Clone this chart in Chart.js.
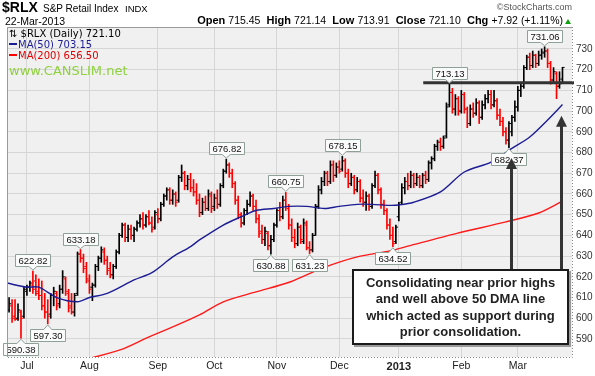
<!DOCTYPE html>
<html><head><meta charset="utf-8">
<script src="https://cdn.jsdelivr.net/npm/chart.js@4"></script>
<style>
body{margin:0;background:#fff;}
#wrap{position:relative;width:595px;height:376px;overflow:hidden;font-family:Arial,"Liberation Sans",sans-serif;color:#000;}
canvas{position:absolute;left:0;top:0;}
.t{position:absolute;white-space:nowrap;line-height:1;}
.lg{font-family:"DejaVu Sans",Verdana,sans-serif;font-size:10px;}
.dash{display:inline-block;width:8px;height:2px;vertical-align:3px;margin-right:1px;}
#note{position:absolute;left:352px;top:269px;width:217px;height:76px;box-sizing:border-box;border:2px solid #1a1a1a;background:#fff;box-shadow:2px 2px 0 #9a9a9a;font:bold 13px Arial,"Liberation Sans",sans-serif;color:#222;text-align:center;line-height:16.3px;padding-top:4px;white-space:nowrap;}
</style></head><body>
<div id="wrap">
<canvas id="c" width="595" height="376"></canvas>
<div class="t" style="left:2px;top:0px;font-size:14px;font-weight:bold;">$RLX</div>
<div class="t" style="left:43px;top:3.5px;font-size:10px;">S&amp;P Retail Index</div>
<div class="t" style="left:125px;top:4px;font-size:9.5px;">INDX</div>
<div class="t" style="right:23px;top:3.4px;font-size:9px;color:#555;">&copy;StockCharts.com</div>
<div class="t" style="left:5px;top:15.6px;font-size:10.5px;">22-Mar-2013</div>
<div class="t" style="right:32px;top:15.2px;font-size:11px;"><b>Open</b> <span style="font-size:10.5px">715.45</span>&nbsp; <b>High</b> <span style="font-size:10.5px">721.14</span>&nbsp; <b>Low</b> <span style="font-size:10.5px">713.91</span>&nbsp; <b>Close</b> <span style="font-size:10.5px">721.10</span>&nbsp; <b>Chg</b> <span style="font-size:10.5px">+7.92 (+1.11%)</span></div>
<div style="position:absolute;left:565px;top:19px;width:0;height:0;border-left:3.5px solid transparent;border-right:3.5px solid transparent;border-bottom:5px solid #10a010;"></div>
<div class="t lg" style="left:9px;top:28.5px;">&#8645; $RLX (Daily) 721.10</div>
<div class="t lg" style="left:9px;top:39.5px;color:#1c1c94;"><span class="dash" style="background:#1c1c94"></span>MA(50) 703.15</div>
<div class="t lg" style="left:9px;top:50.5px;color:#e00000;"><span class="dash" style="background:#ff0000"></span>MA(200) 656.50</div>
<div class="t" style="left:9px;top:64px;font-family:'DejaVu Sans',Verdana,sans-serif;font-size:13px;color:#8fd13f;">www.CANSLIM.net</div>
<div id="note">Consolidating near prior highs<br>and well above 50 DMA line<br>which acted as support during<br>prior consolidation.</div>
</div>
<script>
// Daily OHLC, 22-Jun-2012 .. 22-Mar-2013 (index 0 = 22-Jun-2012)
const opens = [604,606,601,600,603,601,613,615,616,618,613,611,606,603,602,611,612,607,614,619,612,606,603,612,631,629,625,618,615,616,625,629,632,628,624,621,625,632,640,645,639,643,640,643,646,648,645,649,646,644,650,648,655,659,662,657,660,657,668,670,664,667,663,661,657,651,656,653,659,654,658,655,664,671,674,670,665,657,650,646,652,655,659,654,648,642,638,641,635,638,645,652,649,657,653,645,639,636,644,637,645,634,633,640,654,662,666,670,666,674,669,673,672,676,670,665,668,662,666,658,656,659,654,664,669,662,655,652,645,640,637,649,656,663,666,664,669,665,668,664,669,667,675,677,683,685,683,688,703,709,701,706,700,708,701,694,701,699,704,697,703,706,708,703,705,698,695,690,686,690,697,702,710,712,721,726,722,727,723,727,728,729,723,715,718,712,715.45];
const highs = [610,609,609,607,604,615,616,618,622.82,621,619,618,612,609,612,615,613,616,623,620,614,612,612,632,633.18,631,627,621,617,626,630,634.5,634,630,627,626,633,641,646,646,645,645,644,647,650,651,650,652,649,652,653,656,660,663,663,662,661,669,674,671,669,670,667,665,660,658,659,662,661,660,662,665,672,676.82,675,672,666,659,651,653,657,661,660,657,650,645,644,642,640,646,653,656,659,660.75,655,648,643,646,645,648,647,637,641,655,664,668,671,671,676,676,675,676,678.15,677,672,670,669,668,667,662,661,660,665,671,670,663,657,653,648,644,645,656,665,668,670,671,670,670,669,670,671,676,678,684,686,687,688,704,713.13,711,708,707,710,709,702,703,704,706,705,705,708,710,710,710,706,701,697,692,695,698,705,712,713,722,727,728,729,727.5,729,730,731.06,730,724,721,719,719,721.14];
const lows = [603,598,599,599,590.38,600,611,613,612,611,609,604,600,597.30,600,606,604,605,612,611,603,602,601,611,627,622,617,612,608.5,615,623,627,626,621,619.5,619,624,631,639,637,637,638,637,642,644,643,644,645,641.5,643,646,647,654,657,655,655,654,656,666,662,662,661,659,655,649,650,652,652,651,652,653,654,663,670,668,663,655,648,644,645,650,654,652,646,639,636,635,633,630.88,637,644,647,648,652,643,637,634,635,636,636,633,631.23,632,640,653,660,664,664,665,666,668,670,671,668,663,664,660,661,656,654,652,652,653,663,660,653,650,643,638,634.52,636,647,655,660,662,663,663,664,663,663,665,666,672,676,681,681,682,687,702,699,698,698,699,699,692,693,697,698,694,696,701,704,701,702,696,693,688,684,682.37,688,695,700,707,711,720,720,721,721,722,725,726,721,713,714,706,711,713.91];
const closes = [607,600,599.5,604,600,614,615,617,614,612,611,606,603,601,611,613,606,614,620,613,605,603,611,631,629,624,619,614,616,625,629,633,628,623,621,625,632,640,645,639,643,640,643,646,648,645,649,646,643,651,648,655,659,662,657,660,656,668,670,664,667,663,661,657,651,656,653,660,653,658,655,664,671,674,670,665,657,650,646,652,655,659,654,648,641,638,642,635,638,645,652,649,657,654,645,639,636,644,638,646,634,633,640,654,662,666,670,666,674,669,673,671,676,670,665,668,662,666,658,656,659,654,664,669,662,655,652,645,640,636,644,655,663,666,664,669,665,668,664,669,667,675,677,683,685,683,687,702,709,701,706,700,708,701,694,701,699,704,697,703,706,708,703,705,698,695,690,686,694,697,702,710,712,721,726,722,727,723,727,728.5,729,723,715,719,712,713.18,721.10];

// Moving averages (index, value)
const ma50Idx = [-0.7,6,10,16,23,27,33,42,48,55,61,64,72,78,83,89,94,100,106,111,117,122,128,131,136,145,153,162,169,175,181,186];
const ma50Val = [617,615,615,610,608,610,612,618.5,622,629.6,634.6,637.8,645,649,652,653,654,654,653,654,655,655,654.5,654.7,656,661,670.6,675.4,682,687.5,695.7,703.15];
const ma200Idx = [24,37.3,46.3,55,64,72,83,94.4,105.5,117,128,134,150.5,167,178,186];
const ma200Val = [579.5,584.7,590.5,595.8,601.6,607.9,612.7,617.5,624.3,629.6,632.5,634.8,641,646.5,650.8,656.5];

// Axis ticks
const monthIdx = [6,27,50,69,90,111,131,152,171];
const monthLbl = ['Jul','Aug','Sep','Oct','Nov','Dec','2013','Feb','Mar'];
const yTicks = [590,600,610,620,630,640,650,660,670,680,690,700,710,720,730];

// Price callouts
const calloutIdx = [4,13,8,24,73,88,93,101,112,129,148,168,180];
const calloutVal = [590.38,597.30,622.82,633.18,676.82,630.88,660.75,631.23,678.15,634.52,713.13,682.37,731.06];
const calloutUp  = [false,false,true,true,true,false,true,false,true,false,true,false,true];

// Annotation marks
const resistance = {fromIdx:139.2, value:713.7};
const arrowIdx = [168.7,185.4];
const arrowTip = [677.4,697.7];
const arrowBase = 615;

const colors = closes.map((c,i)=> (i===0 ? c>=opens[0] : c>=closes[i-1]) ? '#000000' : '#ff0000');

const bgPlugin = {
  id:'bg',
  beforeDraw(ch){
    const {ctx, chartArea:a} = ch;
    ctx.save(); ctx.fillStyle='#f0f0f0';
    ctx.fillRect(a.left,a.top,a.right-a.left,a.bottom-a.top); ctx.restore();
  },
  afterDraw(ch){
    const {ctx, chartArea:a} = ch;
    ctx.save();
    ctx.strokeStyle='#9a9a9a'; ctx.lineWidth=1;
    ctx.beginPath(); ctx.moveTo(a.left+0.5,a.bottom); ctx.lineTo(a.left+0.5,a.top+0.5); ctx.lineTo(a.right,a.top+0.5); ctx.stroke();
    ctx.setLineDash([1,2]); ctx.strokeStyle='#8a8a8a';
    ctx.beginPath(); ctx.moveTo(a.right+0.5,a.top); ctx.lineTo(a.right+0.5,a.bottom+0.5); ctx.lineTo(a.left,a.bottom+0.5); ctx.stroke();
    ctx.restore();
  }
};

function callout(ctx, x, py, txt, up){
  ctx.font='9.5px Arial, "Liberation Sans", sans-serif';
  const w = Math.round(ctx.measureText(txt).width) + 6, h = 12;
  const cy = up ? py - 11 : py + 11;
  const l = Math.round(x - w/2)+0.5, r = l + w, t = Math.round(cy - h/2)+0.5, b = t + h;
  ctx.beginPath();
  if(up){
    ctx.moveTo(l,t); ctx.lineTo(r,t); ctx.lineTo(r,b); ctx.lineTo(x+4,b); ctx.lineTo(x,py-1); ctx.lineTo(x-4,b); ctx.lineTo(l,b); ctx.closePath();
  } else {
    ctx.moveTo(l,b); ctx.lineTo(r,b); ctx.lineTo(r,t); ctx.lineTo(x+4,t); ctx.lineTo(x,py+1); ctx.lineTo(x-4,t); ctx.lineTo(l,t); ctx.closePath();
  }
  ctx.fillStyle='#fbfbfb'; ctx.fill();
  ctx.strokeStyle='#8fa096'; ctx.lineWidth=1; ctx.stroke();
  ctx.fillStyle='#111'; ctx.textAlign='center'; ctx.textBaseline='middle';
  ctx.fillText(txt, (l+r)/2, (t+b)/2+0.5);
}

const annoPlugin = {
  id:'anno',
  afterDatasetsDraw(ch){
    const {ctx, chartArea:a, scales:{x, y}} = ch;
    ctx.save();
    // resistance line
    ctx.strokeStyle='#333'; ctx.lineWidth=3;
    const ry = y.getPixelForValue(resistance.value);
    ctx.beginPath(); ctx.moveTo(x.getPixelForValue(resistance.fromIdx), ry); ctx.lineTo(a.right+2, ry); ctx.stroke();
    // callouts
    calloutIdx.forEach((ix,k)=>{
      callout(ctx, x.getPixelForValue(ix), y.getPixelForValue(calloutVal[k]), calloutVal[k].toFixed(2), calloutUp[k]);
    });
    // arrows
    arrowIdx.forEach((ix,k)=>{
      const ax = Math.round(x.getPixelForValue(ix))+0.5;
      const tip = y.getPixelForValue(arrowTip[k]);
      const base = y.getPixelForValue(arrowBase);
      ctx.strokeStyle='#333'; ctx.lineWidth=3;
      ctx.beginPath(); ctx.moveTo(ax, base); ctx.lineTo(ax, tip+9); ctx.stroke();
      ctx.fillStyle='#333';
      ctx.beginPath(); ctx.moveTo(ax, tip); ctx.lineTo(ax+5.5, tip+11); ctx.lineTo(ax-5.5, tip+11); ctx.closePath(); ctx.fill();
    });
    ctx.restore();
  }
};

new Chart(document.getElementById('c'), {
  type:'bar',
  data:{datasets:[
    {type:'bar', data: highs.map((h,i)=>({x:i, y:[lows[i], h]})), backgroundColor: colors, barThickness:1, borderWidth:0, order:3},
    {type:'scatter', data: opens.map((o,i)=>({x:i-0.36, y:o})), pointStyle:'line', pointRadius:1.05, pointBorderWidth:1, pointBorderColor: colors, pointBackgroundColor: colors, order:2},
    {type:'scatter', data: closes.map((c,i)=>({x:i+0.36, y:c})), pointStyle:'line', pointRadius:1.05, pointBorderWidth:1, pointBorderColor: colors, pointBackgroundColor: colors, order:2},
    {type:'line', data: ma200Idx.map((v,k)=>({x:v, y:ma200Val[k]})), borderColor:'#ff1a1a', borderWidth:1.4, pointRadius:0, tension:0.3, order:1},
    {type:'line', data: ma50Idx.map((v,k)=>({x:v, y:ma50Val[k]})), borderColor:'#1c1c94', borderWidth:1.4, pointRadius:0, tension:0.3, order:0}
  ]},
  options:{
    responsive:false, animation:false, events:[],
    layout:{padding:{top:27,left:7,right:0,bottom:0}},
    plugins:{legend:{display:false}, tooltip:{enabled:false}},
    scales:{
      x:{type:'linear', min:-0.7, max:189.2, offset:false,
         grid:{color:'#d6d6d6', drawTicks:false, offset:false}, border:{display:false},
         afterBuildTicks:s=>{ s.ticks = monthIdx.map(v=>({value:v})); },
         afterFit:s=>{ s.height = 19; },
         ticks:{padding:3, color:'#222', autoSkip:false, maxRotation:0,
           callback:(v)=>{ const k=monthIdx.indexOf(v); return k>=0?monthLbl[k]:''; },
           font:(c)=> (c.tick && c.tick.value===131) ? {family:'Arial', size:11, weight:'bold'} : {family:'Arial', size:10.5}}
      },
      y:{position:'right', min:581.3, max:740.6,
         grid:{color:'#d6d6d6', drawTicks:false}, border:{display:false},
         afterBuildTicks:s=>{ s.ticks = yTicks.map(v=>({value:v})); },
         afterFit:s=>{ s.width = 23; },
         ticks:{padding:4, color:'#333', font:{family:'Arial', size:10}, callback:v=>String(v)}
      }
    }
  },
  plugins:[bgPlugin, annoPlugin]
});
</script>
</body></html>
